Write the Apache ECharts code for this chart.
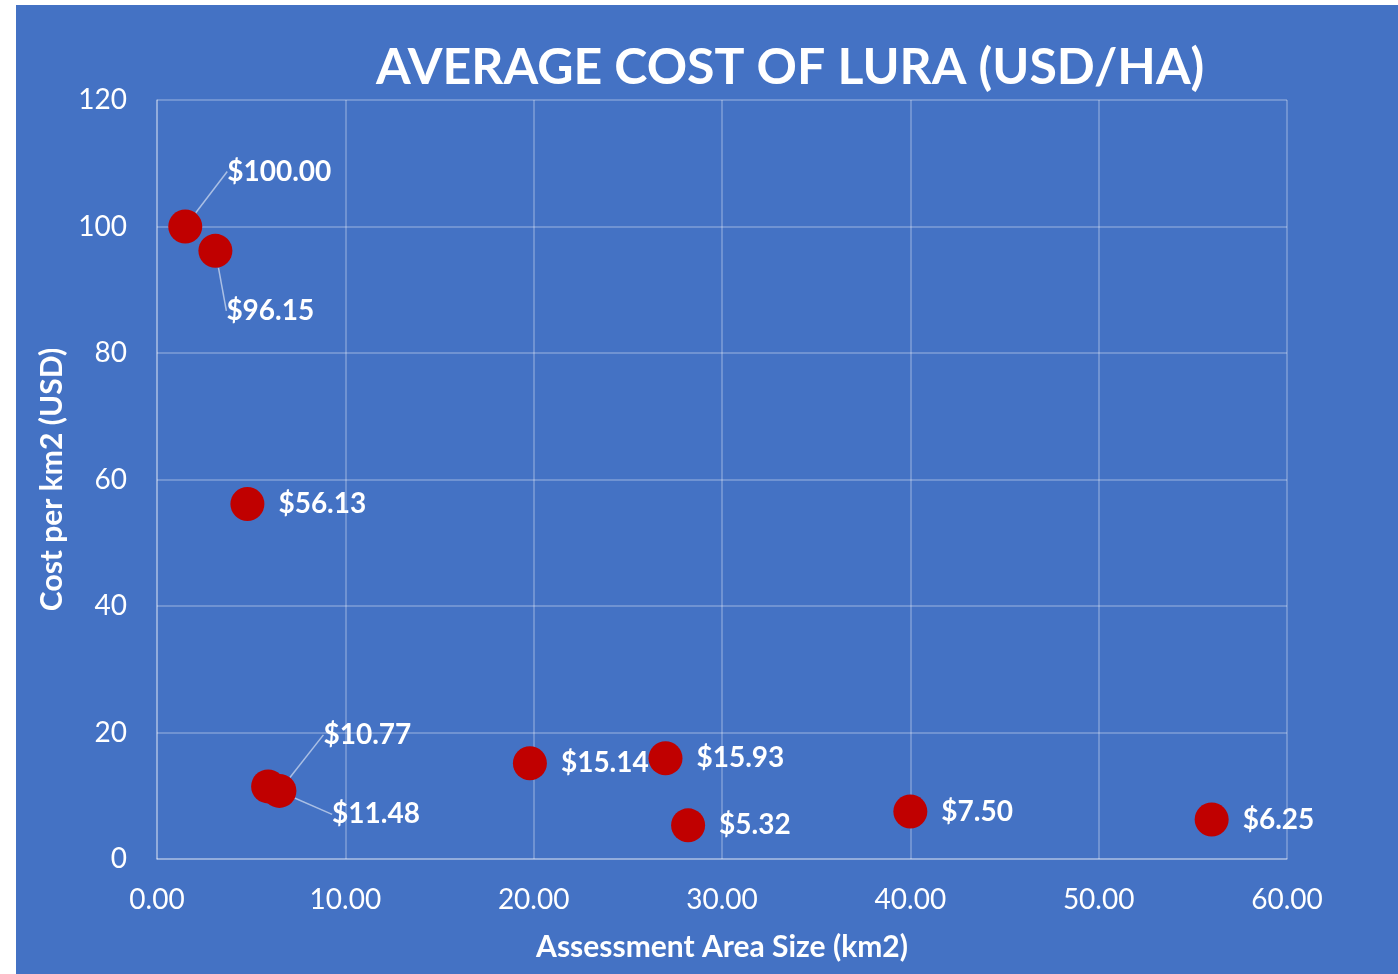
<!DOCTYPE html>
<html>
<head>
<meta charset="UTF-8">
<title>Average cost of LURA</title>
<script src="https://cdn.jsdelivr.net/npm/echarts@6/dist/echarts.min.js"></script>
<style>
    html,body{margin:0;padding:0;background:#fff;}
    #main{position:absolute;left:16px;top:5px;width:1382px;height:969px;background:#4472C4;}
</style>
</head>
<body>
<div id="main"></div>
<script>
// area size (km2) and cost per km2 (USD) for each assessment
var areaSize = [1.5, 3.1, 4.8, 5.9, 6.5, 19.8, 27.0, 28.2, 40.0, 56.0];
var costPerKm2 = [100.00, 96.15, 56.13, 11.48, 10.77, 15.14, 15.93, 5.32, 7.50, 6.25];
var xTicks = [0, 10, 20, 30, 40, 50, 60];
var yTicks = [0, 20, 40, 60, 80, 100, 120];

// labels that got pulled away from their point (with a leader line)
var movedLabels = {0: [11, -55], 1: [-20, 60], 3: [33, 28], 4: [13, -56]};

var chart = echarts.init(document.getElementById('main'));
var gridColor = 'rgba(255,255,255,0.32)';
var font = 'Lato, "Open Sans", sans-serif';

var points = areaSize.map(function (x, i) {
    var item = {value: [x, costPerKm2[i]]};
    if (movedLabels[i]) item.labelLine = {show: true};
    return item;
});

chart.setOption({
    backgroundColor: '#4472C4',
    title: {
        text: 'AVERAGE COST OF LURA (USD/HA)',
        left: 355,
        top: 33,
        textStyle: {color: '#fff', fontFamily: font, fontWeight: 'bold', fontSize: 50}
    },
    grid: {left: 141, right: 111, top: 95, bottom: 115},
    xAxis: {
        type: 'value',
        min: xTicks[0], max: xTicks[xTicks.length - 1], interval: 10,
        name: 'Assessment Area Size (km2)',
        nameLocation: 'middle',
        nameGap: 73,
        nameTextStyle: {color: '#fff', fontFamily: font, fontWeight: 'bold', fontSize: 30},
        axisLine: {show: true, lineStyle: {color: gridColor, width: 1.5}},
        axisTick: {show: false},
        axisLabel: {color: '#fff', fontFamily: font, fontSize: 28, margin: 27,
            formatter: function (v) { return v.toFixed(2); }},
        splitLine: {show: true, lineStyle: {color: gridColor, width: 1.5}}
    },
    yAxis: {
        type: 'value',
        min: yTicks[0], max: yTicks[yTicks.length - 1], interval: 20,
        name: 'Cost per km2 (USD)',
        nameLocation: 'middle',
        nameGap: 90,
        nameTextStyle: {color: '#fff', fontFamily: font, fontWeight: 'bold', fontSize: 30},
        axisLine: {show: true, lineStyle: {color: gridColor, width: 1.5}},
        axisTick: {show: false},
        axisLabel: {color: '#fff', fontFamily: font, fontSize: 28, margin: 30},
        splitLine: {show: true, lineStyle: {color: gridColor, width: 1.5}}
    },
    series: [{
        type: 'scatter',
        symbolSize: 34,
        itemStyle: {color: '#C00000', opacity: 1},
        data: points,
        label: {
            show: true,
            position: 'right',
            distance: 14,
            color: '#fff',
            fontFamily: font,
            fontWeight: 'bold',
            fontSize: 28,
            formatter: function (p) { return '$' + p.value[1].toFixed(2); }
        },
        labelLine: {show: false, lineStyle: {color: 'rgba(255,255,255,0.55)', width: 1.5}},
        labelLayout: function (p) {
            var m = movedLabels[p.dataIndex];
            return m ? {dx: m[0], dy: m[1]} : {};
        },
        emphasis: {disabled: true}
    }]
});
</script>
</body>
</html>
